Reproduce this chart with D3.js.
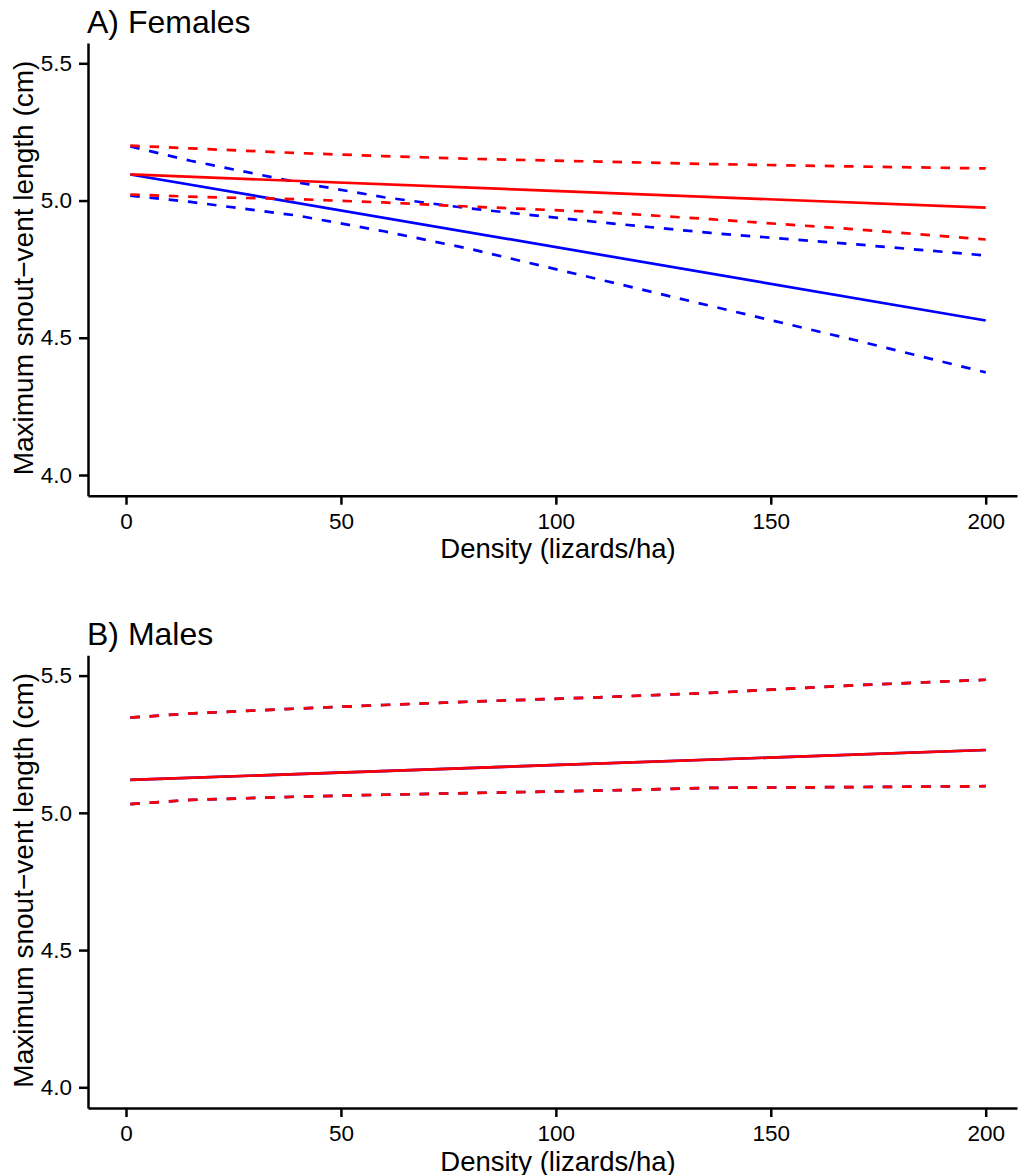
<!DOCTYPE html>
<html>
<head>
<meta charset="utf-8">
<script src="https://cdn.jsdelivr.net/npm/d3@7/dist/d3.min.js"></script>
<style>
  html, body { margin: 0; padding: 0; background: #fff; }
  svg { display: block; }
  text { font-family: "Liberation Sans", Arial, Helvetica, sans-serif; fill: #000; }
</style>
</head>
<body>
<script>
// ---------- data ----------
const xTicks = [0, 50, 100, 150, 200];
const yTicks = [4.0, 4.5, 5.0, 5.5];
const fitDensity = [1, 200];
const ciDensity = [1, 15, 40, 60, 80, 110, 136, 170, 200];

// Panel A: Females
const femRedFit = [5.095, 4.974];
const femRedUpper = [5.200, 5.190, 5.173, 5.162, 5.152, 5.142, 5.133, 5.124, 5.117];
const femRedLower = [5.022, 5.014, 5.005, 4.993, 4.978, 4.958, 4.932, 4.895, 4.858];
const femBlueFit = [5.095, 4.563];
const femBlueUpper = [5.197, 5.145, 5.066, 5.012, 4.971, 4.921, 4.882, 4.840, 4.800];
const femBlueLower = [5.018, 4.995, 4.945, 4.888, 4.824, 4.713, 4.616, 4.490, 4.374];

// Panel B: Males
const maleRedFit = [5.120, 5.229];
const maleRedUpper = [5.347, 5.362, 5.380, 5.393, 5.405, 5.421, 5.437, 5.465, 5.485];
const maleRedLower = [5.032, 5.047, 5.059, 5.066, 5.072, 5.081, 5.091, 5.094, 5.097];
const maleBlueFit = [5.120, 5.229];
const maleBlueUpper = [5.347, 5.362, 5.380, 5.393, 5.405, 5.421, 5.437, 5.465, 5.485];
const maleBlueLower = [5.032, 5.047, 5.059, 5.066, 5.072, 5.081, 5.091, 5.094, 5.097];

const panels = [
  { title: "A) Females", top: 43,
    series: [
      { xs: ciDensity, ys: femBlueUpper, color: "#0000FF", dashed: true },
      { xs: ciDensity, ys: femBlueLower, color: "#0000FF", dashed: true },
      { xs: fitDensity, ys: femBlueFit, color: "#0000FF", dashed: false },
      { xs: ciDensity, ys: femRedUpper, color: "#FF0000", dashed: true },
      { xs: ciDensity, ys: femRedLower, color: "#FF0000", dashed: true },
      { xs: fitDensity, ys: femRedFit, color: "#FF0000", dashed: false }
    ] },
  { title: "B) Males", top: 655.3,
    series: [
      { xs: ciDensity, ys: maleBlueUpper, color: "#0000FF", dashed: true },
      { xs: ciDensity, ys: maleBlueLower, color: "#0000FF", dashed: true },
      { xs: fitDensity, ys: maleBlueFit, color: "#0000FF", dashed: false },
      { xs: ciDensity, ys: maleRedUpper, color: "#FF0000", dashed: true },
      { xs: ciDensity, ys: maleRedLower, color: "#FF0000", dashed: true },
      { xs: fitDensity, ys: maleRedFit, color: "#FF0000", dashed: false }
    ] }
];

// ---------- layout ----------
const W = 1019, H = 1175;
const plotLeft = 88, plotRight = 1017, plotH = 452.7;
const FONT = '"Liberation Sans", Arial, Helvetica, sans-serif';

const svg = d3.select("body").append("svg").attr("width", W).attr("height", H);

const x = d3.scaleLinear().domain([-8.84, 207.28]).range([plotLeft, plotRight]);

panels.forEach(p => {
  const y = d3.scaleLinear().domain([3.9246, 5.574]).range([p.top + plotH, p.top]);
  const g = svg.append("g");

  // x axis
  const xa = g.append("g")
    .attr("transform", `translate(0,${p.top + plotH})`)
    .call(d3.axisBottom(x).tickValues(xTicks).tickFormat(d3.format("d"))
      .tickSize(9).tickSizeOuter(0).tickPadding(8));
  // y axis
  const ya = g.append("g")
    .attr("transform", `translate(${plotLeft},0)`)
    .call(d3.axisLeft(y).tickValues(yTicks).tickFormat(d3.format(".1f"))
      .tickSize(9).tickSizeOuter(0).tickPadding(7));

  [xa, ya].forEach(a => {
    a.select(".domain").attr("stroke", "#000").attr("stroke-width", 2.5);
    a.selectAll(".tick line").attr("stroke", "#000").attr("stroke-width", 2.5);
    a.selectAll(".tick text").attr("font-size", 22.5).attr("fill", "#000")
      .style("font-family", FONT);
  });

  // lines
  const line = d3.line().x(d => x(d[0])).y(d => y(d[1]));
  p.series.forEach(s => {
    const pts = s.xs.map((v, i) => [v, s.ys[i]]);
    g.append("path")
      .attr("d", line(pts))
      .attr("fill", "none")
      .attr("stroke", s.color)
      .attr("stroke-width", 2.7)
      .attr("stroke-dasharray", s.dashed ? "9.5,9.8" : null);
  });

  // title
  g.append("text")
    .attr("x", plotLeft - 1).attr("y", p.top - 10)
    .attr("font-size", 32)
    .text(p.title);

  // x label
  g.append("text")
    .attr("x", 558).attr("y", p.top + plotH + 62.5)
    .attr("text-anchor", "middle")
    .attr("font-size", 27.5)
    .text("Density (lizards/ha)");

  // y label
  g.append("text")
    .attr("transform", `translate(33,${p.top + 225}) rotate(-90)`)
    .attr("text-anchor", "middle")
    .attr("font-size", 28)
    .text("Maximum snout\u2212vent length (cm)");
});
</script>
</body>
</html>
